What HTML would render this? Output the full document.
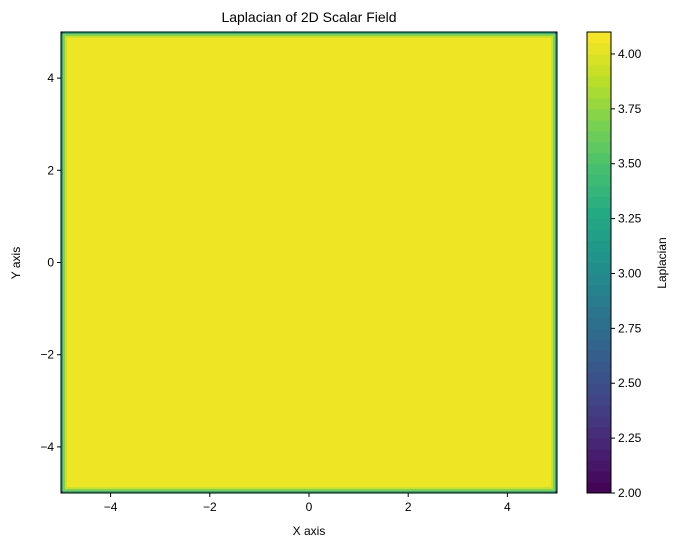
<!DOCTYPE html>
<html><head><meta charset="utf-8"><style>
body{margin:0;background:#fff;font-family:"Liberation Sans",sans-serif;}
svg text{font-family:"Liberation Sans",sans-serif;fill:#000;}
</style></head><body>
<svg id="c" width="679" height="547">
<text x="309" y="22" font-size="14" text-anchor="middle">Laplacian of 2D Scalar Field</text>
<g id="plot"></g><g id="cbar"></g><g id="axes"></g>
<text x="309" y="535" font-size="12" text-anchor="middle">X axis</text>
<text x="20" y="263" font-size="12" text-anchor="middle" transform="rotate(-90 20 263)">Y axis</text>
<text x="666" y="263" font-size="12" text-anchor="middle" transform="rotate(-90 666 263)">Laplacian</text>
</svg>
<script>
const xTicks=[-4,-2,0,2,4];
const yTicks=[-4,-2,0,2,4];
const cTicks=[2.00,2.25,2.50,2.75,3.00,3.25,3.50,3.75,4.00];
const interiorValue=4.05;
const ringValues=[3.3,3.7,3.95];
const cornerValue=2.5;
const cMin=2.0,cMax=4.1;
const X0=61,X1=557,Y0=32,Y1=493;
const sx=v=>X0+(v+5)/10*(X1-X0);
const sy=v=>Y1-(v+5)/10*(Y1-Y0);
const CB0=587,CB1=611;
const sc=v=>Y1-(v-cMin)/(cMax-cMin)*(Y1-Y0);
const vir=[[68,1,84],[72,36,117],[65,68,135],[53,95,141],[42,120,142],[33,145,140],[34,168,132],[68,191,112],[122,209,81],[189,223,38],[253,231,37]];
function col(v){let t=Math.max(0,Math.min(1,(v-cMin)/(cMax-cMin)))*(vir.length-1);let i=Math.min(vir.length-2,Math.floor(t)),f=t-i;
const c=vir[i].map((a,k)=>Math.round(a+(vir[i+1][k]-a)*f));return `rgb(${c})`;}
const NS="http://www.w3.org/2000/svg";
function mk(p,tag,at){const e=document.createElementNS(NS,tag);for(const k in at)e.setAttribute(k,at[k]);p.appendChild(e);return e;}
const plot=document.getElementById('plot');
const ring=2;
let r0=mk(plot,'rect',{x:X0,y:Y0,width:X1-X0,height:Y1-Y0,fill:col(ringValues[0])});


ringValues.forEach((v,i)=>{if(i==0)return;const d=i*ring;
const r=mk(plot,'rect',{x:X0+d,y:Y0+d,width:X1-X0-2*d,height:Y1-Y0-2*d,fill:col(v)});

});
const d=ringValues.length*ring;
const inner=mk(plot,'rect',{x:X0+d,y:Y0+d,width:X1-X0-2*d,height:Y1-Y0-2*d,fill:col(interiorValue)});


[[X0,Y0],[X1-ring,Y0],[X0,Y1-ring],[X1-ring,Y1-ring]].forEach(p=>{
const c=mk(plot,'rect',{x:p[0],y:p[1],width:ring,height:ring,fill:col(cornerValue)});

});
const cb=document.getElementById('cbar');
for(let v=cMin;v<cMax-1e-9;v+=0.05){
const r=mk(cb,'rect',{x:CB0,y:sc(v+0.05),width:CB1-CB0,height:sc(v)-sc(v+0.05)+0.5,fill:col(v+0.025)});

}
const ax=document.getElementById('axes');
const f1=mk(ax,'rect',{x:X0,y:Y0,width:X1-X0,height:Y1-Y0,fill:'none',stroke:'#000','stroke-width':1});


const f2=mk(ax,'rect',{x:CB0,y:Y0,width:CB1-CB0,height:Y1-Y0,fill:'none',stroke:'#000','stroke-width':1});


const lab=v=>(v<0?'\u2212':'')+Math.abs(v);
xTicks.forEach(v=>{const x=sx(v);mk(ax,'line',{x1:x,x2:x,y1:Y1,y2:Y1+4,stroke:'#000'});
const t=mk(ax,'text',{x:x,y:Y1+18,'font-size':12,'text-anchor':'middle'});t.textContent=lab(v);

});
yTicks.forEach(v=>{const y=sy(v);mk(ax,'line',{x1:X0-4,x2:X0,y1:y,y2:y,stroke:'#000'});
const t=mk(ax,'text',{x:X0-7,y:y+4,'font-size':12,'text-anchor':'end'});t.textContent=lab(v);

});
cTicks.forEach(v=>{const y=sc(v);mk(ax,'line',{x1:CB1,x2:CB1+4,y1:y,y2:y,stroke:'#000'});
const t=mk(ax,'text',{x:CB1+7,y:y+4,'font-size':12});t.textContent=v.toFixed(2);

});
</script>
</body></html>
